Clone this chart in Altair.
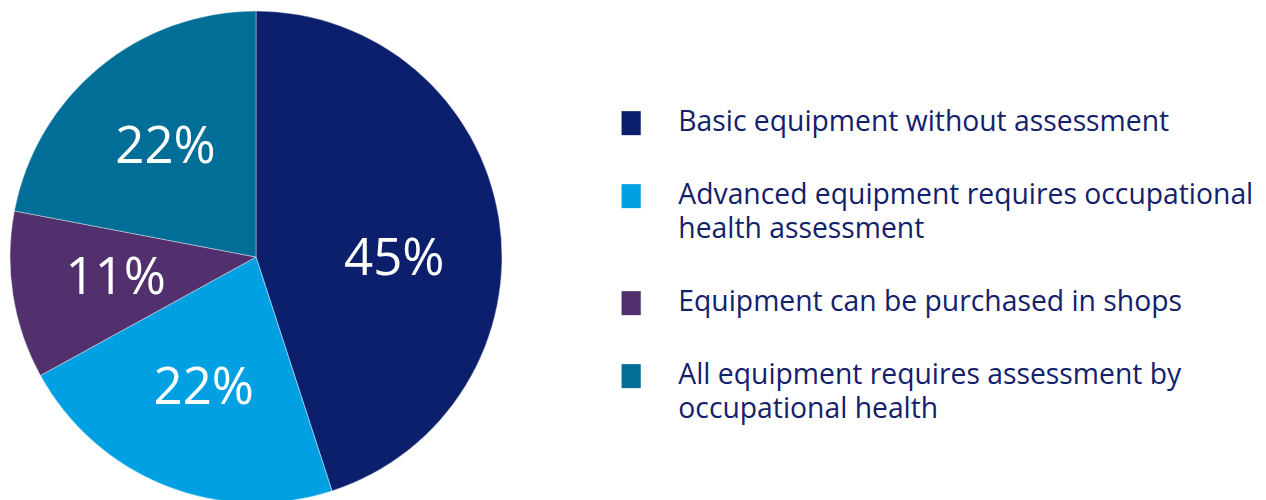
import altair as alt
import pandas as pd

categories = [
    "Basic equipment without assessment",
    "Advanced equipment requires occupational|health assessment",
    "Equipment can be purchased in shops",
    "All equipment requires assessment by|occupational health",
]
values = [45, 22, 11, 22]
colors = ["#0c1f6c", "#00a0e3", "#52306d", "#006e96"]

df = pd.DataFrame({"category": categories, "value": values, "idx": list(range(len(values)))})

base = alt.Chart(df).encode(
    theta=alt.Theta("value:Q", stack=True),
    order=alt.Order("idx:Q"),
)

arcs = base.mark_arc(outerRadius=246, stroke="#ffffff", strokeWidth=0.4).encode(
    color=alt.Color(
        "category:N",
        scale=alt.Scale(domain=categories, range=colors),
        sort=categories,
        legend=alt.Legend(
            title=None,
            orient="none",
            legendX=609,
            legendY=101,
            symbolType="M-0.8,-1H0.8V1H-0.8Z",
            symbolSize=576,
            symbolStrokeWidth=0,
            labelFont="Open Sans",
            labelFontSize=28.3,
            labelColor="#13216a",
            labelOffset=33,
            labelLimit=700,
            rowPadding=44,
            labelExpr="split(datum.label, '|')",
        ),
    )
)

# labels for the smaller slices (first slice label drawn separately, nudged down)
labels_rest = base.transform_calculate(
    label="datum.idx == 0 ? '' : datum.value + '%'"
).mark_text(
    radius=142, font="Open Sans", fontSize=51, color="#ffffff"
).encode(text="label:N")

labels_first = base.transform_filter("datum.idx == 0").transform_calculate(
    label="datum.value + '%'"
).mark_text(
    radius=140, dy=25, font="Open Sans", fontSize=51, color="#ffffff"
).encode(text="label:N")

chart = (
    alt.layer(arcs, labels_rest, labels_first)
    .properties(width=496, height=498, padding={"left": 0, "top": 0, "right": 0, "bottom": 0})
    .configure_view(stroke=None)
    .configure(style={"guide-label": {"lineHeight": 34}})
)

chart.save("out.html", embed_options={"renderer": "svg", "actions": False})
